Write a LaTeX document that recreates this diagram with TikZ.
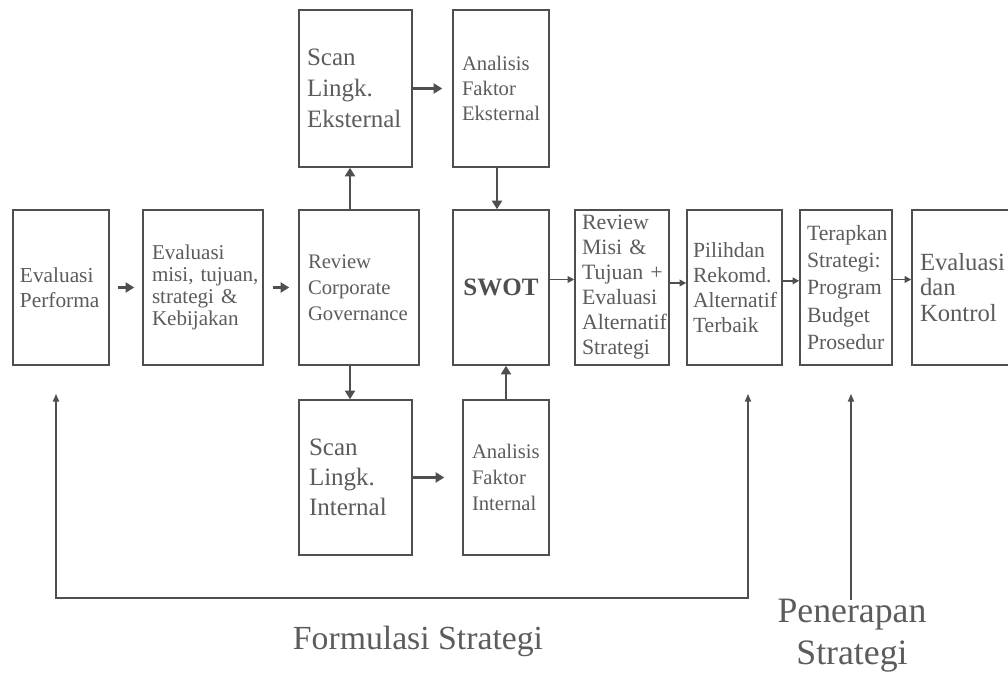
\documentclass[tikz,border=0pt]{standalone}
\usepackage{fontspec}
\setmainfont{Liberation Serif}
\usetikzlibrary{arrows.meta}
\definecolor{ln}{HTML}{4F4F4F}
\definecolor{tx}{HTML}{5C5C5C}
\hyphenpenalty=10000
\exhyphenpenalty=10000
\hbadness=10000
\hfuzz=100pt
\begin{document}
\begin{tikzpicture}[x=0.75pt,y=-0.75pt,
  bx/.style={draw=ln, line width=1.1pt, text=tx, align=left, inner ysep=0pt, minimum height=116.25pt},
  arrT/.style={draw=ln, line width=2.2pt, -{Triangle[length=6.5pt,width=7.5pt]}},
  arrt/.style={draw=ln, line width=1.1pt, -{Triangle[length=5pt,width=5pt]}},
  fb/.style={draw=ln, line width=1.5pt},
  lbl/.style={text=tx, inner sep=0pt}
]
\fill[white] (0,0) rectangle (1008,675);
\useasboundingbox (0,0) rectangle (1008,675);

% main row
\node[bx, minimum width=72pt, text width=61.5pt, inner xsep=5.25pt, font=\fontsize{16}{18.75}\selectfont] (perf) at (61,287.5) {Evaluasi\\Performa};
\node[bx, minimum width=90pt, text width=76.5pt, inner xsep=6.75pt, font=\fontsize{15.8}{16.5}\selectfont] (misi) at (203,287.5) {Evaluasi\\\mbox{misi, tujuan,}\\\mbox{strategi \&}\\Kebijakan};
\node[bx, minimum width=90pt, text width=76.5pt, inner xsep=6.75pt, font=\fontsize{15.5}{19.5}\selectfont] (corp) at (359,287.5) {Review\\Corporate\\Governance};
\node[bx, minimum width=72pt, text width=60pt, inner xsep=6pt, align=center, text=ln, font=\bfseries\fontsize{18.75}{22}\selectfont] (swot) at (501,287.5) {SWOT};
\node[bx, minimum width=70.5pt, text width=60pt, inner xsep=5.25pt, font=\fontsize{16.4}{18.75}\selectfont] (rmisi) at (622,287.5) {Review\\\mbox{Misi \&}\\\mbox{Tujuan +}\\Evaluasi\\Alternatif\\Strategi};
\node[bx, minimum width=71.25pt, text width=62.25pt, inner xsep=4.5pt, font=\fontsize{16.2}{18.75}\selectfont] (pilih) at (734.5,287.5) {Pilihdan\\Rekomd.\\Alternatif\\Terbaik};
\node[bx, minimum width=69pt, text width=58.5pt, inner xsep=5.25pt, font=\fontsize{16.3}{20.5}\selectfont] (terap) at (846,287.5) {Terapkan\\Strategi:\\Program\\Budget\\Prosedur};
\node[bx, minimum width=75pt, text width=63pt, inner xsep=6pt, font=\fontsize{18.5}{19}\selectfont] (evalk) at (962,287.5) {Evaluasi\\dan\\Kontrol};

% top row
\node[bx, minimum height=117.75pt, minimum width=84.75pt, text width=72.75pt, inner xsep=6pt, font=\fontsize{18.75}{23.25}\selectfont] (scanE) at (355.5,88.5) {Scan\\Lingk.\\Eksternal};
\node[bx, minimum height=117.75pt, minimum width=72pt, text width=58.5pt, inner xsep=6.75pt, font=\fontsize{15.5}{19}\selectfont] (anaE) at (501,88.5) {Analisis\\Faktor\\Eksternal};

% bottom row
\node[bx, minimum width=84.75pt, text width=69.75pt, inner xsep=7.5pt, font=\fontsize{18.75}{22.5}\selectfont] (scanI) at (355.5,477.5) {Scan\\Lingk.\\Internal};
\node[bx, minimum width=64.5pt, text width=51pt, inner xsep=6.75pt, font=\fontsize{15.5}{19.5}\selectfont] (anaI) at (506,477.5) {Analisis\\Faktor\\Internal};

% labels
\node[lbl, font=\fontsize{25.3}{30}\selectfont] (form) at (418,641) {Formulasi Strategi};
\node[lbl, align=center, font=\fontsize{26.8}{31.5}\selectfont] (pen) at (852,636) {Penerapan\\Strategi};

% thick arrows
\draw[arrT] ([xshift=6pt]perf.east) -- ([xshift=-6pt]misi.west);
\draw[arrT] ([xshift=6.75pt]misi.east) -- ([xshift=-6.75pt]corp.west);
\draw[arrT] ([xshift=-6.75pt]corp.north) -- ([xshift=-6.75pt]corp.north |- scanE.south);
\draw[arrT] ([xshift=-6.75pt]corp.south) -- ([xshift=-6.75pt]corp.south |- scanI.north);
\draw[arrT] (scanE.east) -- ([xshift=-7.5pt]anaE.west);
\draw[arrT] (scanI.east) -- ([xshift=-13.5pt]anaI.west);
\draw[arrT] ([xshift=-3pt]anaE.south) -- ([xshift=-3pt]anaE.south |- swot.north);
\draw[arrT] (anaI.north) -- (anaI.north |- swot.south);

% thin arrows
\draw[arrt] ([yshift=6pt]swot.east) -- ([yshift=6pt]rmisi.west);
\draw[arrt] ([yshift=3.4pt]rmisi.east) -- ([yshift=3.4pt]pilih.west);
\draw[arrt] ([yshift=5pt]pilih.east) -- ([yshift=5pt]terap.west);
\draw[arrt] ([yshift=6pt]terap.east) -- ([yshift=6pt]evalk.west);

% feedback lines
\coordinate (fbL) at (56,598);
\coordinate (fbR) at (748,598);
\coordinate (penTop) at (851,600);
\draw[fb, {Triangle[length=6pt,width=4.5pt]}-{Triangle[length=6pt,width=4.5pt]}]
  ([yshift=-21pt]perf.south -| fbL) -- (fbL) -- (fbR) -- ([yshift=-21pt]pilih.south -| fbR);
\draw[fb, -{Triangle[length=6pt,width=4.5pt]}] (penTop) -- ([yshift=-21pt]terap.south -| penTop);
\end{tikzpicture}
\end{document}
